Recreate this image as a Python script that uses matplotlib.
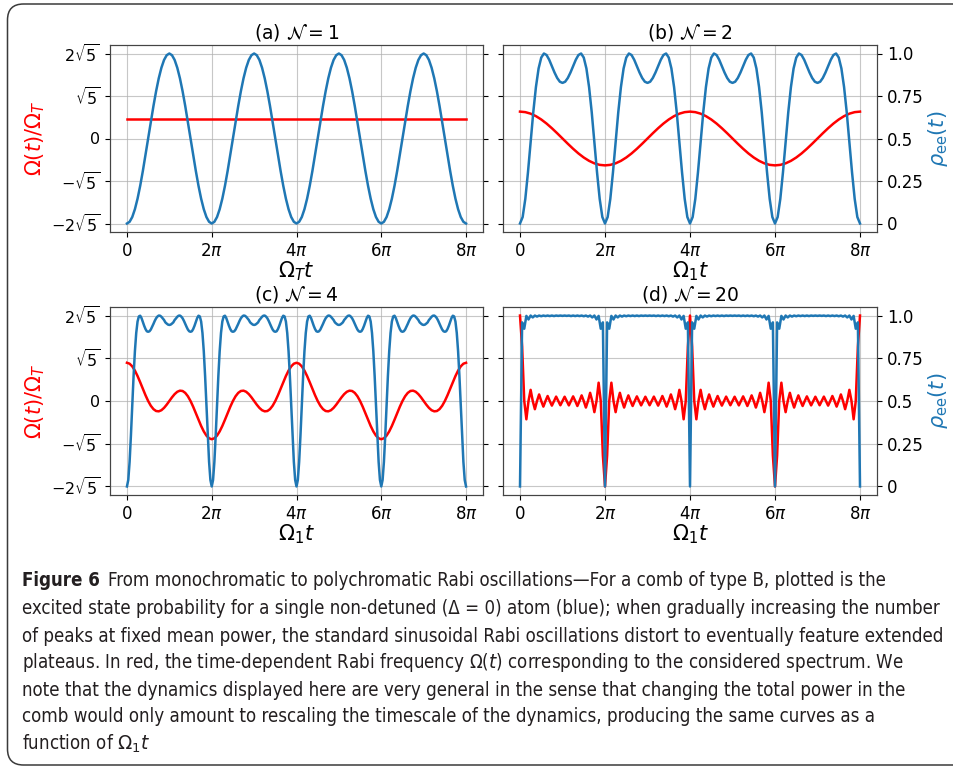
import numpy as np
import matplotlib
matplotlib.use('Agg')
import matplotlib.pyplot as plt
from matplotlib import font_manager
from matplotlib.patches import PathPatch
from matplotlib.path import Path
from matplotlib.transforms import IdentityTransform

# values, one half period each
# rho_ee(t) on [0, pi]: step pi/16 (a, b), pi/32 (c), pi/20 (d)
rho_a_half = [0, 0.010, 0.038, 0.084, 0.146, 0.222, 0.309, 0.403, 0.5,
              0.597, 0.691, 0.778, 0.854, 0.916, 0.962, 0.990, 1.0]
rho_b_half = [0, 0.038, 0.145, 0.301, 0.480, 0.655, 0.803, 0.912, 0.976,
              1.0, 0.991, 0.963, 0.926, 0.888, 0.856, 0.834, 0.827]
rho_c_half = [0, 0.038, 0.144, 0.299, 0.475, 0.646, 0.791, 0.898, 0.965,
              0.995, 0.999, 0.985, 0.963, 0.940, 0.921, 0.908, 0.905,
              0.908, 0.918, 0.934, 0.951, 0.969, 0.984, 0.994, 1.0,
              0.999, 0.993, 0.983, 0.974, 0.960, 0.953, 0.947, 0.945]
rho_d_half = [0, 0.96, 0.923, 0.998, 0.977, 1.0, 0.989, 1.0, 0.994, 1.0,
              0.996, 1.0, 0.997, 1.0, 0.997, 1.0, 0.997, 1.0, 0.998, 1.0, 0.998]

# Omega(t)/Omega_T on [0, 2pi]: step pi/8 (b), pi/16 (c), pi/20 (d);
# the next 2pi is the same with opposite sign
omega_a = [1.0, 1.0]
omega_b = [1.414, 1.387, 1.307, 1.176, 1.0, 0.786, 0.541, 0.276, 0,
           -0.276, -0.541, -0.786, -1.0, -1.176, -1.307, -1.387, -1.414]
omega_c = [2.0, 1.952, 1.812, 1.591, 1.307, 0.980, 0.636, 0.302, 0.0,
           -0.248, -0.425, -0.524, -0.541, -0.483, -0.360, -0.192, 0.0,
           0.192, 0.360, 0.483, 0.541, 0.524, 0.425, 0.248, 0.0,
           -0.302, -0.636, -0.980, -1.307, -1.591, -1.812, -1.952, -2.0]
omega_d = [4.472, 2.849, 0, -0.958, 0, 0.584, 0, -0.428, 0, 0.344, 0,
           -0.294, 0, 0.262, 0, -0.242, 0, 0.230, 0, -0.224, 0,
           0.224, 0, -0.230, 0, 0.242, 0, -0.262, 0, 0.294, 0,
           -0.344, 0, 0.428, 0, -0.584, 0, 0.958, 0, -2.849, -4.472]

titles = [r'(a) $\mathcal{N} = 1$', r'(b) $\mathcal{N} = 2$',
          r'(c) $\mathcal{N} = 4$', r'(d) $\mathcal{N} = 20$']
xlabels = [r'$\Omega_T t$', r'$\Omega_1 t$', r'$\Omega_1 t$', r'$\Omega_1 t$']
xtick_labels = ['0', r'$2\pi$', r'$4\pi$', r'$6\pi$', r'$8\pi$']
ytick_labels_left = [r'$-2\sqrt{5}$', r'$-\sqrt{5}$', '0', r'$\sqrt{5}$', r'$2\sqrt{5}$']
ytick_labels_right = ['0', '0.25', '0.5', '0.75', '1.0']

caption_head = 'Figure 6'
caption_lines = [
    'From monochromatic to polychromatic Rabi oscillations\u2014For a comb of type B, plotted is the',
    'excited state probability for a single non-detuned (\u0394 = 0) atom (blue); when gradually increasing the number',
    'of peaks at fixed mean power, the standard sinusoidal Rabi oscillations distort to eventually feature extended',
    'plateaus. In red, the time-dependent Rabi frequency \u03a9($t$) corresponding to the considered spectrum. We',
    'note that the dynamics displayed here are very general in the sense that changing the total power in the',
    'comb would only amount to rescaling the timescale of the dynamics, producing the same curves as a',
    r'function of $\Omega_1 t$',
]

BLUE = '#1f77b4'
RED = 'red'
W, H = 954, 767


def mirror(half):
    return list(half) + list(half[-2::-1])


def flip(period):
    return list(period) + [-v for v in period[1:]]


def repeat(period, n):
    period = np.asarray(period, dtype=float)
    return np.concatenate([np.tile(period[:-1], n), period[-1:]])


rho = [repeat(mirror(rho_a_half), 4), repeat(mirror(rho_b_half), 4),
       repeat(mirror(rho_c_half), 4), repeat(mirror(rho_d_half), 4)]
omega = [np.array(omega_a), repeat(flip(omega_b), 2),
         repeat(flip(omega_c), 2), repeat(flip(omega_d), 2)]

fig = plt.figure(figsize=(W / 100, H / 100), dpi=100)

# axes boxes in pixels: left, top, right, bottom
boxes = [(110, 45, 483, 232), (503, 45, 877, 232),
         (110, 307, 483, 495), (503, 307, 877, 495)]

lim = 2 * np.sqrt(5) * 1.1
for i, (l, t, r, b) in enumerate(boxes):
    ax = fig.add_axes([l / W, 1 - b / H, (r - l) / W, (b - t) / H])
    ax2 = ax.twinx()
    t_rho = np.linspace(0, 8 * np.pi, len(rho[i]))
    t_om = np.linspace(0, 8 * np.pi, len(omega[i]))
    ax.plot(t_om, omega[i], color=RED, lw=1.8)
    ax2.plot(t_rho, rho[i], color=BLUE, lw=1.8)

    ax.set_ylim(-lim, lim)
    ax2.set_ylim(-0.05, 1.05)
    ax.set_xlim(-0.4 * np.pi, 8.4 * np.pi)
    ax.set_xticks(np.arange(0, 9, 2) * np.pi)
    ax.set_xticklabels(xtick_labels, fontsize=12)
    ax.set_yticks(np.array([-2, -1, 0, 1, 2]) * np.sqrt(5))
    ax2.set_yticks([0, 0.25, 0.5, 0.75, 1.0])
    if i % 2 == 0:
        ax.set_yticklabels(ytick_labels_left, fontsize=11.5)
        ax2.set_yticklabels([])
        ax.set_ylabel(r'$\Omega(t)/\Omega_T$', color=RED, fontsize=15, labelpad=3)
    else:
        ax.set_yticklabels([])
        ax2.set_yticklabels(ytick_labels_right, fontsize=12)
        ax2.set_ylabel(r'$\rho_{\rm ee}(t)$', color=BLUE, fontsize=15, labelpad=2)
    ax.grid(True, color='#b0b0b0', lw=0.8, alpha=0.7)
    ax.set_title(titles[i], fontsize=13.5, pad=5)
    ax.set_xlabel(xlabels[i], fontsize=15, labelpad=0)
    for a in (ax, ax2):
        for s in a.spines.values():
            s.set_color('#444444')

# frame round figure and caption: rounded on the left, open to the right
fx, ftop, fbot, rad = 7.5, H - 4, 2, 16
verts = [(W + 50, ftop), (fx + rad, ftop), (fx, ftop), (fx, ftop - rad),
         (fx, fbot + rad), (fx, fbot), (fx + rad, fbot), (W + 50, fbot)]
codes = [Path.MOVETO, Path.LINETO, Path.CURVE3, Path.CURVE3,
         Path.LINETO, Path.CURVE3, Path.CURVE3, Path.LINETO]
frame = PathPatch(Path(verts, codes), transform=IdentityTransform(), fill=False,
                  ec='#3a3a3a', lw=1.1, clip_on=False)
fig.add_artist(frame)

# caption font: prefer a narrow face
names = {f.name for f in font_manager.fontManager.ttflist}
cond = {f.name for f in font_manager.fontManager.ttflist if f.stretch == 'condensed'}
if 'Liberation Sans Narrow' in names:
    fam, stretch = 'Liberation Sans Narrow', 'normal'
elif 'DejaVu Sans' in cond:
    fam, stretch = 'DejaVu Sans', 'condensed'
else:
    fam, stretch = 'Open Sans', 'normal'

ys = [581, 608, 636, 663, 690, 717, 744]
x0 = 22
fs = 14
col = '#231f20'
head = fig.text(x0 / W, 1 - ys[0] / H, caption_head, fontsize=fs, fontweight='bold',
                family=fam, fontstretch=stretch, va='center', color=col)
lines = []
for k, s in enumerate(caption_lines):
    lines.append(fig.text(x0 / W, 1 - ys[k] / H, s, fontsize=fs, family=fam,
                          fontstretch=stretch, va='center', color=col))

rend = fig.canvas.get_renderer()
gap = 8
hw = head.get_window_extent(rend).width
widths = [lines[0].get_window_extent(rend).width + hw + gap]
widths += [tx.get_window_extent(rend).width for tx in lines[1:]]
fs = min(fs * 928 / max(widths), 15)
head.set_fontsize(fs)
for tx in lines:
    tx.set_fontsize(fs)
hw = head.get_window_extent(rend).width
lines[0].set_x((x0 + hw + gap * fs / 14) / W)

fig.savefig('out.png', dpi=100)
